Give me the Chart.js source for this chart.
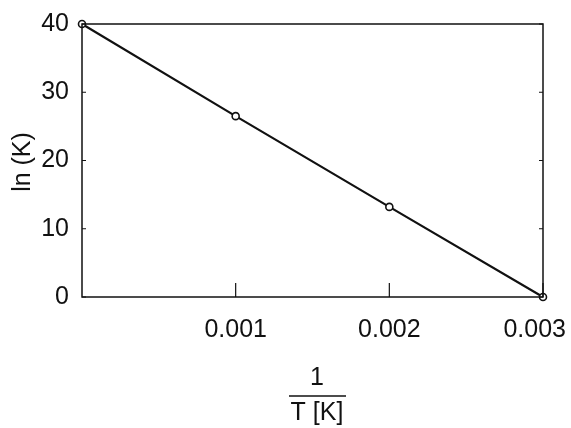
<!DOCTYPE html>
<html>
<head>
<meta charset="utf-8">
<script src="https://cdn.jsdelivr.net/npm/chart.js@4.4.0/dist/chart.umd.min.js"></script>
<style>
  html, body { margin: 0; padding: 0; background: #fff; }
  #wrap { width: 571px; height: 428px; position: relative; }
</style>
</head>
<body>
<div id="wrap"><canvas id="chart" width="571" height="428"></canvas></div>
<script>
// valores
const invT = [0, 0.001, 0.002, 0.003];
const lnK = [40, 26.5, 13.2, 0];
const xTicks = [0.001, 0.002, 0.003];
const yTicks = [0, 10, 20, 30, 40];
const yTitle = 'ln (K)';
const xTitleTop = '1';
const xTitleBottom = 'T [K]';

const FONT = '"Liberation Sans", Arial, sans-serif';

// moldura, ticks para dentro, rótulos do eixo x e títulos
const framePlugin = {
    id: 'frame',
    afterDraw(chart) {
        const { ctx, chartArea: a, scales } = chart;
        ctx.save();
        ctx.strokeStyle = '#111';
        ctx.lineWidth = 1.5;
        ctx.strokeRect(a.left, a.top, a.right - a.left, a.bottom - a.top);

        ctx.lineWidth = 1.2;
        xTicks.forEach(v => {
            const x = scales.x.getPixelForValue(v);
            ctx.beginPath();
            ctx.moveTo(x, a.bottom);
            ctx.lineTo(x, a.bottom - 14);
            ctx.stroke();
        });
        yTicks.forEach(v => {
            const y = scales.y.getPixelForValue(v);
            ctx.beginPath();
            ctx.moveTo(a.left, y);
            ctx.lineTo(a.left + 4, y);
            ctx.moveTo(a.right, y);
            ctx.lineTo(a.right - 4, y);
            ctx.stroke();
        });

        ctx.fillStyle = '#111';
        ctx.font = '25px ' + FONT;
        ctx.textBaseline = 'middle';

        // rótulos do eixo x (o último é empurrado para caber)
        xTicks.forEach(v => {
            const label = v.toFixed(3);
            const w = ctx.measureText(label).width;
            let x = scales.x.getPixelForValue(v) - w / 2;
            x = Math.min(x, chart.width - 5 - w);
            ctx.textAlign = 'left';
            ctx.fillText(label, x, a.bottom + 33);
        });

        ctx.textAlign = 'center';

        // título do eixo y
        ctx.save();
        ctx.translate(23, 162);
        ctx.rotate(-Math.PI / 2);
        ctx.fillText(yTitle, 0, 0);
        ctx.restore();

        // título do eixo x em fração
        const cx = 317;
        ctx.fillText(xTitleTop, cx, 378);
        ctx.lineWidth = 1.5;
        ctx.beginPath();
        ctx.moveTo(cx - 28, 396);
        ctx.lineTo(cx + 29, 396);
        ctx.stroke();
        ctx.fillText(xTitleBottom, cx, 413);
        ctx.restore();
    }
};

new Chart(document.getElementById('chart'), {
    type: 'scatter',
    data: {
        datasets: [{
            data: invT.map((x, i) => ({ x, y: lnK[i] })),
            showLine: true,
            borderColor: '#111',
            borderWidth: 2.2,
            pointRadius: 3.5,
            pointBorderWidth: 1.6,
            pointBackgroundColor: '#fff',
            pointBorderColor: '#111',
            clip: false
        }]
    },
    options: {
        responsive: false,
        animation: false,
        layout: { padding: { left: 0, right: 28, top: 24, bottom: 0 } },
        plugins: { legend: { display: false }, tooltip: { enabled: false } },
        scales: {
            x: {
                type: 'linear',
                min: 0,
                max: 0.003,
                afterBuildTicks: s => { s.ticks = xTicks.map(v => ({ value: v })); },
                afterFit: s => {
                    s.height = 131;
                    s.paddingLeft = 0;
                    s.paddingRight = 0;
                },
                grid: { display: false },
                border: { display: false },
                ticks: { display: false }
            },
            y: {
                min: 0,
                max: 40,
                afterBuildTicks: s => { s.ticks = yTicks.map(v => ({ value: v })); },
                afterFit: s => {
                    s.width = 82;
                    s.paddingTop = 0;
                    s.paddingBottom = 0;
                },
                grid: { display: false },
                border: { display: false },
                ticks: {
                    padding: 5,
                    color: '#111',
                    font: { family: FONT, size: 25 }
                }
            }
        }
    },
    plugins: [framePlugin]
});
</script>
</body>
</html>
